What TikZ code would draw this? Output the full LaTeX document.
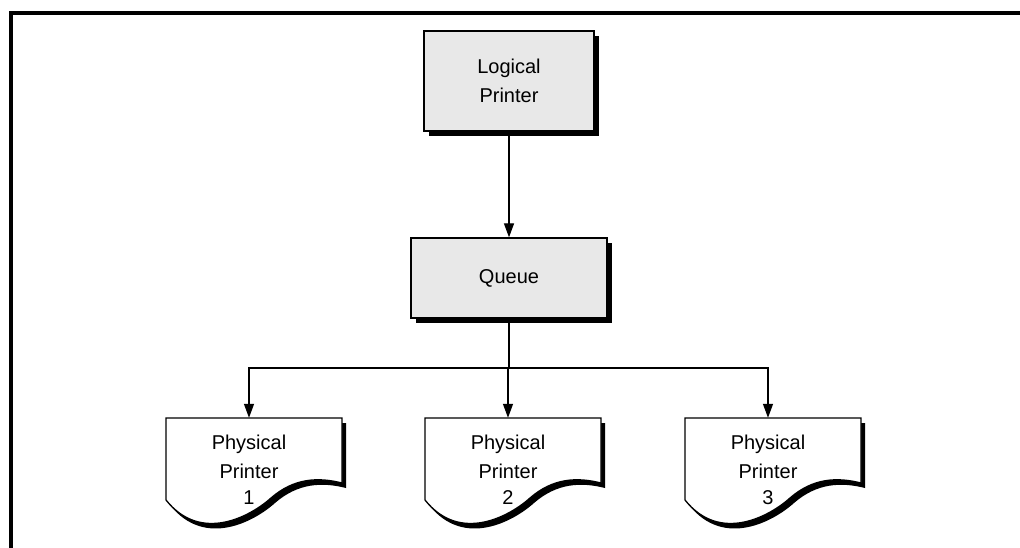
\documentclass[tikz,border=0pt]{standalone}
\usepackage{fontspec}
\setmainfont{Liberation Sans}
\usetikzlibrary{arrows.meta,shadows,backgrounds}
\newcommand\docshape[1]{%
  \begin{scope}[on background layer,shift={(#1.center)},shift={(-83,-52)}]
    \fill[black,shift={(4,5)}] (0,0) -- (176,0) -- (176,65) .. controls (152,59) and (128,60) .. (105,80) .. controls (85,98) and (35,126) .. (0,82) -- cycle;
    \filldraw[fill=white,draw=black,line width=1.3pt,line join=miter] (0,0) -- (176,0) -- (176,65) .. controls (152,59) and (128,60) .. (105,80) .. controls (85,98) and (35,126) .. (0,82) -- cycle;
  \end{scope}}
\begin{document}
\begin{tikzpicture}[x=1pt,y=-1pt,
  txt/.style={font=\fontsize{20}{29}\selectfont,align=center},
  box/.style={txt,draw=black,line width=1.3pt,fill=black!9,inner sep=0pt,
    general shadow={fill=black,shadow xshift=5pt,shadow yshift=-5pt}},
  docnode/.style={txt,minimum width=166pt,minimum height=104pt,inner sep=0pt},
  conn/.style={line width=1.3pt},
  arr/.style={conn,-{Triangle[length=14pt,width=10pt]}}]
\useasboundingbox (0,0) rectangle (1020,548);
\begin{scope}[on background layer]
\fill[white] (0,0) rectangle (1020,548);
\end{scope}
\draw[line width=3.5pt] (11,548) -- (11,13) -- (1020,13);
\node[box,minimum width=170pt,minimum height=100pt] (lp) at (509,81) {Logical\\Printer};
\node[box,minimum width=196pt,minimum height=80pt] (q) at (509,278) {Queue};
\node[docnode] (p1) at (249,470) {Physical\\Printer\\[-3pt]1};
\node[docnode] (p2) at (508,470) {Physical\\Printer\\[-3pt]2};
\node[docnode] (p3) at (768,470) {Physical\\Printer\\[-3pt]3};
\docshape{p1}
\docshape{p2}
\docshape{p3}
\coordinate (br) at (509,368);
\draw[arr] (lp) -- (q);
\draw[conn] (q.south) -- (br);
\draw[arr] (br) -| (p2.north);
\draw[arr] (br) -| (p1.north);
\draw[arr] (br) -| (p3.north);
\end{tikzpicture}
\end{document}
